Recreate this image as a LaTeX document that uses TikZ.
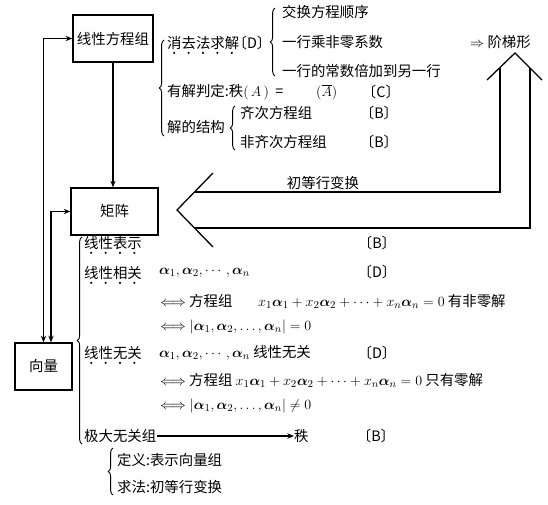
\documentclass[tikz,border=0pt]{standalone}
\usepackage{amsmath,amssymb}
\usepackage{fontspec}
\setmainfont{Noto Sans CJK SC}
\usepackage{tikz}
\usetikzlibrary{arrows.meta,decorations.pathreplacing}

\begin{document}
\begin{tikzpicture}[x=0.03cm,y=-0.03cm,>={Stealth[length=2mm,width=1.6mm]},
  every node/.style={font=\fontsize{12.3}{14}\selectfont,inner sep=0pt},
  box/.style={draw,line width=1.2pt,minimum height=1.41cm},
  txt/.style={anchor=west},
  brk/.style={decoration={brace,amplitude=4pt},decorate,line width=0.8pt},
  lnk/.style={line width=1pt}]
\useasboundingbox (0,0) rectangle (548,505);
% boxes
\node[box,minimum width=2.4cm] (fc) at (113,38.5) {线性方程组};
\node[box,minimum width=2.61cm] (jz) at (114.5,211.5) {矩阵};
\node[box,minimum width=1.71cm] (xl) at (43.5,366.5) {向量};
% linear systems
\node[txt] (xq) at (167,43) {消去法求解};
\node (xqD) at (252,43) {〔D〕};
\node[txt] (h1) at (282,12) {交换方程顺序};
\node[txt] (h2) at (282,42) {一行乘非零系数};
\node[txt] (h3) at (282,71) {一行的常数倍加到另一行};
\node[txt] (jt) at (470,42) {$\Rightarrow$ 阶梯形};
\node[txt] (pd) at (167,92) {有解判定:秩$(\,A\,)$\ \ =};
\node[txt] (pdA) at (316,92) {$(\overline{A})$};
\node (pdC) at (381,92) {〔C〕};
\node[txt] (jg) at (167,127) {解的结构};
\node[txt] (qc) at (240,113) {齐次方程组};
\node[txt] (fq) at (240,142) {非齐次方程组};
\node (qcB) at (379,113) {〔B〕};
\node (fqB) at (379,142) {〔B〕};
\draw[brk] (164,136) -- (164,40);
\draw[brk] (275,76) -- (275,8);
\draw[brk] (235,150) -- (235,106);
% big hollow arrow
\draw[line width=1.1pt] (213,173) -- (177,210) -- (213,247);
\draw[line width=1.1pt] (194.5,192) -- (500,192) -- (500,67.5);
\draw[line width=1.1pt] (194.5,228) -- (530,228) -- (530,68);
\draw[line width=1.1pt] (487,80) -- (515,53) -- (542,80);
\node (cd) at (323,183) {初等行变换};
% matrix / vectors
\node[txt] (bs) at (84,243) {线性表示};
\node (bsB) at (377,243) {〔B〕};
\node[txt] (xg) at (84,273) {线性相关};
\node[txt] (xga) at (159,273) {$\boldsymbol{\alpha}_1,\boldsymbol{\alpha}_2,\cdots,\boldsymbol{\alpha}_n$};
\node (xgD) at (377,272) {〔D〕};
\node[txt] (xg1) at (160,301) {$\Longleftrightarrow$ 方程组};
\node[txt] (xg1e) at (258,301) {$x_1\boldsymbol{\alpha}_1+x_2\boldsymbol{\alpha}_2+\cdots+x_n\boldsymbol{\alpha}_n=0$ 有非零解};
\node[txt] (xg2) at (160,327) {$\Longleftrightarrow|\boldsymbol{\alpha}_1,\boldsymbol{\alpha}_2,\dots,\boldsymbol{\alpha}_n| = 0$};
\node[txt] (wg) at (84,353) {线性无关};
\node[txt] (wga) at (159,353) {$\boldsymbol{\alpha}_1,\boldsymbol{\alpha}_2,\cdots,\boldsymbol{\alpha}_n$ 线性无关};
\node (wgD) at (377,353) {〔D〕};
\node[txt] (wg1) at (160,380) {$\Longleftrightarrow$ 方程组 $x_1\boldsymbol{\alpha}_1+x_2\boldsymbol{\alpha}_2+\cdots+x_n\boldsymbol{\alpha}_n=0$ 只有零解};
\node[txt] (wg2) at (160,406) {$\Longleftrightarrow|\boldsymbol{\alpha}_1,\boldsymbol{\alpha}_2,\dots,\boldsymbol{\alpha}_n| \neq 0$};
\node[txt] (jd) at (84,436) {极大无关组};
\node[txt] (zhi) at (294,436) {秩};
\node (jdB) at (376,436) {〔B〕};
\node[txt] (dy) at (117,460) {定义:表示向量组};
\node[txt] (qf) at (117,487) {求法:初等行变换};
\draw[brk] (82,444) -- (82,237);
\draw[brk] (113,495) -- (113,448);
% emphasis dots
\foreach \n/\m in {xq/4,bs/3,xg/3,wg/3}
  \foreach \k in {0,...,\m}
    \fill ([shift={(7.2+14.4*\k,3)}]\n.south west) circle (1pt);
% connectors
\draw[lnk,->] (jd) -- (zhi);
\draw[lnk,->] (fc.south) -- (fc.south |- jz.north);
\draw[lnk,<->] (xl.north) |- (fc.west);
\draw[lnk,<->] ([shift={(7.5,0)}]xl.north) |- (jz.west);
\end{tikzpicture}
\end{document}
